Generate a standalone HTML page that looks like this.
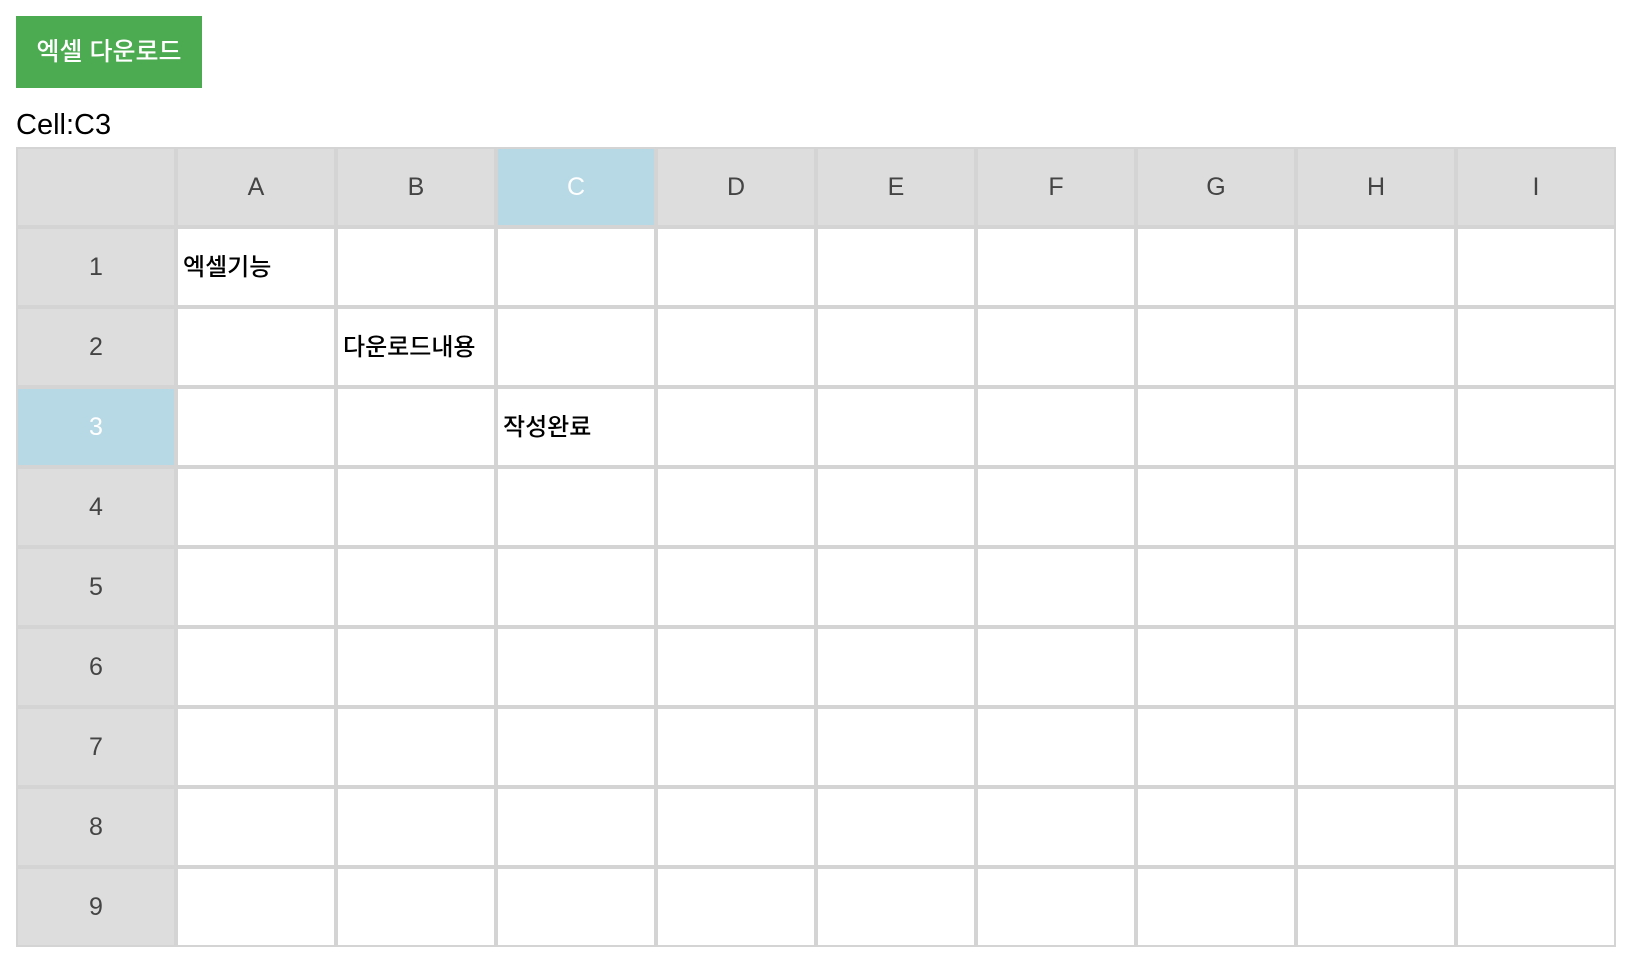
<!DOCTYPE html>
<html><head><meta charset="utf-8">
<style>
body{margin:0;background:#fff;width:1640px;height:972px;overflow:hidden;font-family:"Liberation Sans","Noto Sans CJK KR",sans-serif;}
#btn{position:absolute;left:16px;top:16px;width:186px;height:72px;background:#4caa50;color:#fff;border:none;font-size:25px;font-weight:500;font-family:"Liberation Sans","Noto Sans CJK KR",sans-serif;line-height:72px;text-align:center;padding:0}
#cell{position:absolute;left:16px;top:109px;font-size:29px;color:#000;}
#grid{position:absolute;left:16px;top:147px;width:1600px;display:grid;grid-template-columns:repeat(10,160px);grid-auto-rows:80px;}
.c{box-sizing:border-box;border:2px solid #d4d4d4;display:flex;align-items:center;font-size:24px;font-weight:500;padding-left:5px;padding-bottom:6px;color:#000;background:#fff}
.h{background:#dddddd;color:#444;justify-content:center;padding-left:0;padding-bottom:0;font-size:25px;font-weight:normal}
.sel{background:#b7d9e6;color:#fff}
</style></head><body>
<button id="btn">엑셀 다운로드</button>
<div id="cell">Cell:C3</div>
<div id="grid"></div>
<script>
const cols=['A','B','C','D','E','F','G','H','I'];
const rows=[1,2,3,4,5,6,7,8,9];
const content={'A1':'엑셀기능','B2':'다운로드내용','C3':'작성완료'};
const selCol='C', selRow=3;
const g=document.getElementById('grid');
function mk(cls,txt){const d=document.createElement('div');d.className=cls;d.textContent=txt;g.appendChild(d);return d;}
let d=mk('c h','');


cols.forEach(c=>{const e=mk('c h'+(c===selCol?' sel':''),c);

});
rows.forEach(r=>{const e=mk('c h'+(r===selRow?' sel':''),String(r));


cols.forEach(c=>{const x=mk('c',content[c+r]||'');

});});
</script>
</body></html>
